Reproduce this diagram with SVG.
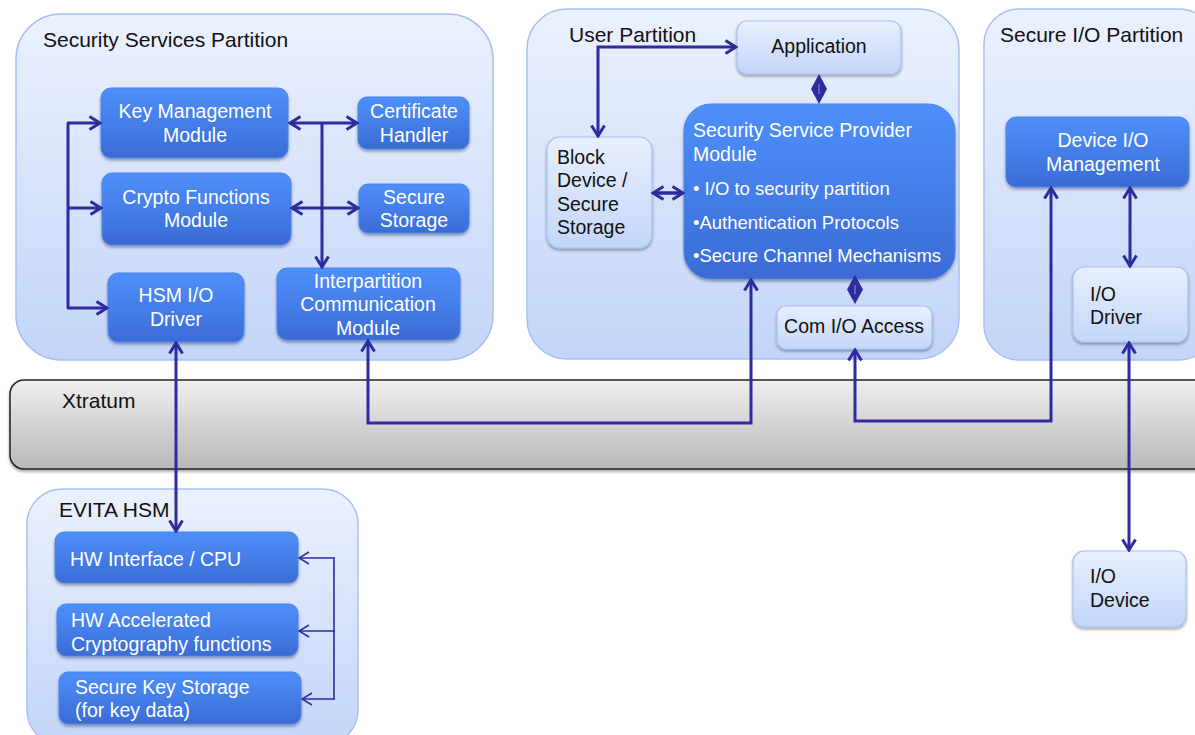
<svg xmlns="http://www.w3.org/2000/svg" width="1195" height="735" viewBox="0 0 1195 735">
<defs>
<linearGradient id="gPart" x1="0" y1="0" x2="0" y2="1"><stop offset="0" stop-color="#ebf1fe"/><stop offset="1" stop-color="#c3d5f9"/></linearGradient>
<linearGradient id="gDark" x1="0" y1="0" x2="0" y2="1"><stop offset="0" stop-color="#4f90fb"/><stop offset="1" stop-color="#3a6bd5"/></linearGradient>
<linearGradient id="gLight" x1="0" y1="0" x2="0" y2="1"><stop offset="0" stop-color="#e9f0fe"/><stop offset="1" stop-color="#c3d6fa"/></linearGradient>
<linearGradient id="gBar" x1="0" y1="0" x2="0" y2="1"><stop offset="0" stop-color="#efefef"/><stop offset="1" stop-color="#b8b8b8"/></linearGradient>
<filter id="sh" x="-10%" y="-10%" width="120%" height="130%"><feDropShadow dx="0" dy="2" stdDeviation="1.8" flood-color="#000" flood-opacity="0.35"/></filter>
<marker id="ah" viewBox="0 0 14 16" refX="12" refY="8" markerWidth="14" markerHeight="16" orient="auto-start-reverse" markerUnits="userSpaceOnUse"><path d="M1.5,1.5 L12,8 L1.5,14.5" fill="none" stroke="#2d2b9e" stroke-width="3"/></marker>
<marker id="ahs" viewBox="0 0 12 14" refX="11" refY="7" markerWidth="12" markerHeight="14" orient="auto-start-reverse" markerUnits="userSpaceOnUse"><path d="M1,1 L11,7 L1,13" fill="none" stroke="#2d2b9e" stroke-width="1.6"/></marker>
</defs>
<style>
.part{fill:url(#gPart);stroke:#a8c0f1;stroke-width:1.5}
.dark{fill:url(#gDark);stroke:#4a82ea;stroke-width:1;filter:url(#sh)}
.light{fill:url(#gLight);stroke:#a9c2f1;stroke-width:1.2;filter:url(#sh)}
.bar{fill:url(#gBar);stroke:#222;stroke-width:1.5;filter:url(#sh)}
text{font-family:"Liberation Sans",Arial,sans-serif}
.t{font-size:21px;fill:#111}
.w{font-size:19.5px;fill:#fff}
.wc{font-size:19.5px;fill:#fff;text-anchor:middle}
.k{font-size:19.5px;fill:#111}
.kc{font-size:19.5px;fill:#111;text-anchor:middle}
.c{fill:none;stroke:#2d2b9e;stroke-width:3}
.cb{fill:none;stroke:#2d2b9e;stroke-width:3;marker-start:url(#ah);marker-end:url(#ah)}
.ce{fill:none;stroke:#2d2b9e;stroke-width:3;marker-end:url(#ah)}
.cs{fill:none;stroke:#2d2b9e;stroke-width:1.6;marker-end:url(#ahs)}
</style>

<g id="security-services-partition">
<rect class="part" x="16" y="14" width="477" height="346" rx="45"/>
<text class="t" x="43" y="47">Security Services Partition</text>
</g>
<g id="user-partition">
<rect class="part" x="527" y="9" width="432" height="350" rx="40"/>
<text class="t" x="569" y="42">User Partition</text>
</g>
<g id="secure-io-partition">
<rect class="part" x="984" y="9" width="230" height="351" rx="35"/>
<text class="t" x="1000" y="42">Secure I/O Partition</text>
</g>
<g id="xtratum">
<rect class="bar" x="10" y="380" width="1200" height="89" rx="14"/>
<text class="t" x="62" y="408">Xtratum</text>
</g>
<g id="evita-hsm">
<rect class="part" x="27" y="489" width="331" height="256" rx="35"/>
<text class="t" x="59" y="517">EVITA HSM</text>
</g>

<g id="key-management">
<rect class="dark" x="101" y="88" width="187" height="70" rx="10"/>
<text class="wc" x="195" y="118">Key Management</text>
<text class="wc" x="195" y="142">Module</text>
</g>
<g id="certificate-handler">
<rect class="dark" x="358" y="97" width="111" height="52" rx="9"/>
<text class="wc" x="414" y="118">Certificate</text>
<text class="wc" x="414" y="142">Handler</text>
</g>
<g id="crypto-functions">
<rect class="dark" x="102" y="173" width="189" height="72" rx="10"/>
<text class="wc" x="196" y="204">Crypto Functions</text>
<text class="wc" x="196" y="227">Module</text>
</g>
<g id="secure-storage">
<rect class="dark" x="359" y="184" width="110" height="49" rx="9"/>
<text class="wc" x="414" y="204">Secure</text>
<text class="wc" x="414" y="227">Storage</text>
</g>
<g id="hsm-io-driver">
<rect class="dark" x="108" y="273" width="136" height="69" rx="10"/>
<text class="wc" x="176" y="302">HSM I/O</text>
<text class="wc" x="176" y="326">Driver</text>
</g>
<g id="interpartition">
<rect class="dark" x="277" y="268" width="183" height="72" rx="10"/>
<text class="wc" x="368" y="288">Interpartition</text>
<text class="wc" x="368" y="311">Communication</text>
<text class="wc" x="368" y="335">Module</text>
</g>

<g id="application">
<rect class="light" x="737" y="21" width="164" height="53" rx="10"/>
<text class="kc" x="819" y="53">Application</text>
</g>
<g id="block-device">
<rect class="light" x="547" y="137" width="105" height="111" rx="13"/>
<text class="k" x="557" y="164">Block</text>
<text class="k" x="557" y="187">Device /</text>
<text class="k" x="557" y="211">Secure</text>
<text class="k" x="557" y="234">Storage</text>
</g>
<g id="sspm">
<rect class="dark" x="684" y="104" width="271" height="175" rx="27"/>
<text class="w" x="693" y="137">Security Service Provider</text>
<text class="w" x="693" y="161">Module</text>
<text class="w" x="693" y="195" style="font-size:18.5px">• I/O to security partition</text>
<text class="w" x="693" y="229" style="font-size:18.5px">•Authentication Protocols</text>
<text class="w" x="693" y="262" style="font-size:18.5px">•Secure Channel  Mechanisms</text>
</g>
<g id="com-io-access">
<rect class="light" x="777" y="306" width="155" height="43" rx="9"/>
<text class="kc" x="854" y="333">Com I/O Access</text>
</g>

<g id="device-io-management">
<rect class="dark" x="1006" y="117" width="183" height="70" rx="10"/>
<text class="wc" x="1103" y="147">Device I/O</text>
<text class="wc" x="1103" y="171">Management</text>
</g>
<g id="io-driver">
<rect class="light" x="1073" y="267" width="115" height="75" rx="11"/>
<text class="k" x="1090" y="301">I/O</text>
<text class="k" x="1090" y="324">Driver</text>
</g>
<g id="io-device">
<rect class="light" x="1073" y="551" width="113" height="76" rx="11"/>
<text class="k" x="1090" y="583">I/O</text>
<text class="k" x="1090" y="607">Device</text>
</g>

<g id="hw-interface">
<rect class="dark" x="55" y="532" width="243" height="51" rx="9"/>
<text class="w" x="70" y="566">HW Interface / CPU</text>
</g>
<g id="hw-accelerated">
<rect class="dark" x="57" y="604" width="241" height="52" rx="9"/>
<text class="w" x="71" y="627">HW Accelerated</text>
<text class="w" x="71" y="651">Cryptography functions</text>
</g>
<g id="secure-key-storage">
<rect class="dark" x="59" y="672" width="242" height="52" rx="9"/>
<text class="w" x="75" y="694">Secure Key Storage</text>
<text class="w" x="75" y="717">(for key data)</text>
</g>

<g id="connectors">
<path class="c" d="M68,123 V308"/>
<path class="ce" d="M67,123 H100"/>
<path class="ce" d="M67,208 H101"/>
<path class="ce" d="M67,308 H107"/>
<path class="cb" d="M290,123 H357"/>
<path class="ce" d="M322,123 V267"/>
<path class="cb" d="M292,208 H358"/>
<path class="cb" d="M176,343 V531"/>
<path class="cb" d="M368,341 V423 H751 V280"/>
<path class="cb" d="M855,350 V421 H1051 V188"/>
<path class="cb" d="M1130,188 V266"/>
<path class="cb" d="M1129,343 V550"/>
<path class="cb" d="M736,47 H598 V136"/>
<path class="cb" style="stroke-width:3.5" d="M653,193 H683"/>
<polygon points="819,74 827,89 819,104 811,89" fill="#2d2b9e"/>
<path d="M819,84 V94" stroke="#7f86d0" stroke-width="1.2"/>
<polygon points="855,275 863,289.5 855,304 847,289.5" fill="#2d2b9e"/>
<path d="M855,285 V294" stroke="#7f86d0" stroke-width="1.2"/>
<path class="c" style="stroke-width:1.6" d="M334,558 V699"/>
<path class="cs" d="M335,558 H299"/>
<path class="cs" d="M335,631 H299"/>
<path class="cs" d="M335,699 H302"/>
</g>
</svg>
